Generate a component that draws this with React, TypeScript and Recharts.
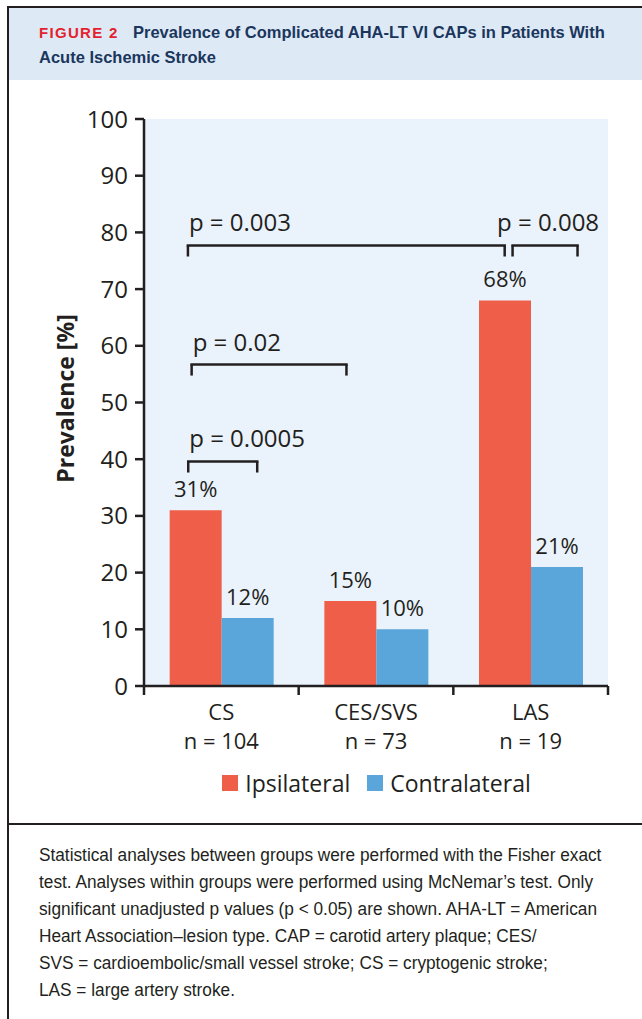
import React from 'react';
import { ComposedChart, Bar, XAxis, YAxis, CartesianGrid, ReferenceLine, LabelList, Legend } from 'recharts';

const categories = ['CS', 'CES/SVS', 'LAS'];
const groupSizes = ['n = 104', 'n = 73', 'n = 19'];
const ipsilateral = [31, 15, 68];
const contralateral = [12, 10, 21];
const seriesNames = ['Ipsilateral', 'Contralateral'];
const yTicks = [0, 10, 20, 30, 40, 50, 60, 70, 80, 90, 100];
const bandEdges = [0, 1, 2, 3];

// significance brackets, x in category units (0..3), y in %
const brackets = [
  { text: 'p = 0.0005', from: 0.286, to: 0.732, y: 39.6, align: 'start' },
  { text: 'p = 0.02', from: 0.308, to: 1.309, y: 56.7, align: 'start' },
  { text: 'p = 0.003', from: 0.284, to: 2.332, y: 77.7, align: 'start' },
  { text: 'p = 0.008', from: 2.383, to: 2.803, y: 77.7, align: 'middle' },
];
const LEG = 1.95;

const captionLines = [
  'Statistical analyses between groups were performed with the Fisher exact',
  'test. Analyses within groups were performed using McNemar\u2019s test. Only',
  'significant unadjusted p values (p < 0.05) are shown. AHA-LT = American',
  'Heart Association\u2013lesion type. CAP = carotid artery plaque; CES/',
  'SVS = cardioembolic/small vessel stroke; CS = cryptogenic stroke;',
  'LAS = large artery stroke.',
];

const data = categories.map((name, i) => ({
  name,
  n: groupSizes[i],
  pos: i + 0.5,
  Ipsilateral: ipsilateral[i],
  Contralateral: contralateral[i],
}));

const INK = '#231f20';
const RED = '#ef5e48';
const BLUE = '#5aa6da';
const FONT = '"Open Sans", "Noto Sans", sans-serif';
const SANS = '"Liberation Sans", Arial, sans-serif';

const CategoryTick = ({ x, y, payload }: any) => {
  const row = data.find((d) => d.name === payload.value);
  return (
    <g>
      <text x={x} y={y + 24} textAnchor="middle" fill={INK} fontSize={22} fontFamily={FONT}>{payload.value}</text>
      <text x={x} y={y + 53} textAnchor="middle" fill={INK} fontSize={22} fontFamily={FONT}>{row ? row.n : ''}</text>
    </g>
  );
};

const EmptyTick = () => <g />;

const bracketLabel = (text: string, align: string) => (props: any) => {
  const vb = props.viewBox || {};
  const left = vb.x != null ? vb.x : Math.min(vb.x1, vb.x2);
  const width = vb.width != null ? vb.width : Math.abs(vb.x2 - vb.x1);
  const y = vb.y != null ? vb.y : vb.y1;
  const x = align === 'middle' ? left + width / 2 + 3 : left + 1;
  return (
    <text x={x} y={y - 14} textAnchor={align} fill={INK} fontSize={24} fontFamily={FONT}>{text}</text>
  );
};

const yLabel = (props: any) => {
  const vb = props.viewBox;
  return (
    <text
      transform={`translate(${vb.x + 74}, ${vb.y + vb.height / 2 - 4}) rotate(-90)`}
      textAnchor="middle"
      fill={INK}
      fontSize={23}
      fontWeight={700}
      fontFamily={FONT}
    >
      Prevalence [%]
    </text>
  );
};

const LegendContent = ({ payload }: any) => {
  const items = seriesNames
    .map((name) => (payload || []).find((p: any) => p.value === name))
    .filter(Boolean);
  return (
    <div style={{ display: 'flex', justifyContent: 'center', alignItems: 'center', height: 34, fontFamily: FONT, fontSize: 23, color: INK }}>
      {items.map((entry: any, i: number) => (
        <span key={entry.value} style={{ display: 'flex', alignItems: 'center', marginLeft: i === 0 ? 0 : 17 }}>
          <span style={{ width: 16, height: 16, background: entry.color, marginRight: 7, display: 'inline-block' }} />
          <span>{entry.value}</span>
        </span>
      ))}
    </div>
  );
};

const Squeezed = ({ left, top, scale, style, children }: any) => (
  <div
    style={{
      position: 'absolute',
      left,
      top,
      whiteSpace: 'nowrap',
      transform: `scaleX(${scale})`,
      transformOrigin: 'left top',
      ...style,
    }}
  >
    {children}
  </div>
);

export default function App() {
  const titleStyle = { fontFamily: SANS, fontWeight: 700, fontSize: 17, lineHeight: '20px', color: '#1b365d' };
  return (
    <div style={{ position: 'absolute', left: 0, top: 0, width: 642, height: 1019, background: '#fff', overflow: 'hidden' }}>
      {/* frame */}
      <div style={{ position: 'absolute', left: 7, top: 6, width: 660, height: 1030, borderLeft: `2px solid ${INK}`, borderTop: `2px solid ${INK}` }} />
      <div style={{ position: 'absolute', left: 9, top: 8, width: 640, height: 72, background: '#dde9f5' }} />
      <div
        style={{
          position: 'absolute',
          left: 39,
          top: 23,
          lineHeight: '20px',
          fontFamily: SANS,
          fontWeight: 700,
          fontSize: 15,
          letterSpacing: 1.3,
          color: '#e4222e',
          whiteSpace: 'nowrap',
        }}
      >
        FIGURE 2
      </div>
      <Squeezed left={133} top={23} scale={0.97} style={titleStyle}>
        Prevalence of Complicated AHA-LT VI CAPs in Patients With
      </Squeezed>
      <Squeezed left={39} top={48} scale={0.97} style={titleStyle}>
        Acute Ischemic Stroke
      </Squeezed>

      <div style={{ position: 'absolute', left: 0, top: 100 }}>
        <ComposedChart
          width={642}
          height={720}
          data={data}
          margin={{ top: 19, right: 34, bottom: 20, left: 0 }}
          barCategoryGap="16.6%"
          barGap={0}
        >
          <CartesianGrid xAxisId="names" fill="#eaf2fb" stroke="none" />
          <XAxis
            xAxisId="edges"
            dataKey="pos"
            type="number"
            domain={[0, 3]}
            allowDataOverflow
            ticks={bandEdges}
            tick={EmptyTick}
            tickSize={9}
            height={10}
            axisLine={{ stroke: INK, strokeWidth: 2.5 }}
            tickLine={{ stroke: INK, strokeWidth: 2.5 }}
          />
          <XAxis
            xAxisId="names"
            dataKey="name"
            axisLine={false}
            tickLine={false}
            tickSize={0}
            tickMargin={0}
            height={70}
            interval={0}
            tick={<CategoryTick />}
          />
          <YAxis
            domain={[0, 100]}
            ticks={yTicks}
            width={144}
            tickSize={9}
            tickMargin={7}
            axisLine={{ stroke: INK, strokeWidth: 2.5 }}
            tickLine={{ stroke: INK, strokeWidth: 2.5 }}
            tick={{ fill: INK, fontSize: 24, fontFamily: FONT }}
            label={yLabel}
          />
          <Legend verticalAlign="bottom" content={<LegendContent />} wrapperStyle={{ left: 144, width: 465 }} />
          <Bar xAxisId="names" dataKey="Ipsilateral" fill={RED} isAnimationActive={false}>
            <LabelList dataKey="Ipsilateral" position="top" offset={13} formatter={(v: any) => `${v}%`} fill={INK} fontSize={22} fontFamily={FONT} />
          </Bar>
          <Bar xAxisId="names" dataKey="Contralateral" fill={BLUE} isAnimationActive={false}>
            <LabelList dataKey="Contralateral" position="top" offset={13} formatter={(v: any) => `${v}%`} fill={INK} fontSize={22} fontFamily={FONT} />
          </Bar>
          {brackets.map((b) => (
            <ReferenceLine
              key={`${b.text}-h`}
              xAxisId="edges"
              segment={[{ x: b.from, y: b.y }, { x: b.to, y: b.y }]}
              stroke={INK}
              strokeWidth={2.5}
              strokeLinecap="square"
              label={bracketLabel(b.text, b.align)}
            />
          ))}
          {brackets.map((b) => (
            <ReferenceLine
              key={`${b.text}-l`}
              xAxisId="edges"
              segment={[{ x: b.from, y: b.y }, { x: b.from, y: b.y - LEG }]}
              stroke={INK}
              strokeWidth={2.5}
            />
          ))}
          {brackets.map((b) => (
            <ReferenceLine
              key={`${b.text}-r`}
              xAxisId="edges"
              segment={[{ x: b.to, y: b.y }, { x: b.to, y: b.y - LEG }]}
              stroke={INK}
              strokeWidth={2.5}
            />
          ))}
        </ComposedChart>
      </div>

      <div style={{ position: 'absolute', left: 8, top: 823, width: 640, height: 2, background: INK }} />
      {captionLines.map((line, i) => (
        <Squeezed key={line} left={39} top={845 + i * 27} scale={0.985} style={{ fontFamily: SANS, fontSize: 17.5, lineHeight: '20px', color: INK }}>
          {line}
        </Squeezed>
      ))}
    </div>
  );
}
